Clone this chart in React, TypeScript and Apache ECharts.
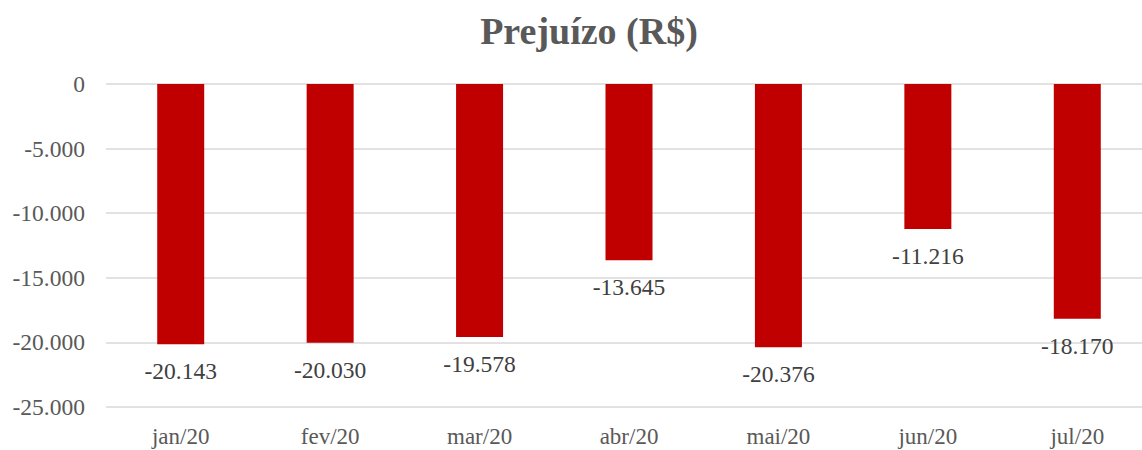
import React, { useEffect, useRef } from "react";
import * as echarts from "echarts";

const title = "Prejuízo (R$)";
const categories = ["jan/20", "fev/20", "mar/20", "abr/20", "mai/20", "jun/20", "jul/20"];
const values = [-20143, -20030, -19578, -13645, -20376, -11216, -18170];
const yMin = -25000;
const yMax = 0;
const yInterval = 5000;

const fmt = (v: number) => {
  const s = Math.abs(v).toString().replace(/\B(?=(\d{3})+(?!\d))/g, ".");
  return (v < 0 ? "-" : "") + s;
};

const FONT = "Liberation Serif";

export default function App() {
  const ref = useRef<HTMLDivElement>(null);
  useEffect(() => {
    if (!ref.current) return;
    const chart = echarts.init(ref.current, undefined, { renderer: "svg" });
    chart.setOption({
      animation: false,
      backgroundColor: "#ffffff",
      title: {
        text: title,
        left: 584,
        top: 26,
        textAlign: "center",
        textVerticalAlign: "middle",
        textStyle: { fontFamily: FONT, fontSize: 38, fontWeight: "bold", color: "#595959" },
      },
      grid: { left: 106, top: 84, width: 1046, height: 323, containLabel: false },
      xAxis: {
        type: "category",
        data: categories,
        position: "bottom",
        axisLine: { show: false },
        axisTick: { show: false },
        axisLabel: { fontFamily: FONT, fontSize: 23, color: "#595959", margin: 18 },
      },
      yAxis: {
        type: "value",
        min: yMin,
        max: yMax,
        interval: yInterval,
        axisLine: { show: false },
        axisTick: { show: false },
        splitLine: { lineStyle: { color: "#d9d9d9", width: 1.5 } },
        axisLabel: {
          fontFamily: FONT,
          fontSize: 23.5,
          color: "#595959",
          margin: 21,
          formatter: (v: number) => fmt(v),
        },
      },
      series: [
        {
          type: "bar",
          data: values,
          barWidth: 47,
          itemStyle: { color: "#C00000" },
          label: {
            show: true,
            position: "bottom",
            distance: 15,
            fontFamily: FONT,
            fontSize: 23.5,
            color: "#404040",
            formatter: (p: any) => fmt(p.value),
          },
        },
      ],
    });
    return () => chart.dispose();
  }, []);
  return (
    <div style={{ position: "absolute", left: 0, top: 0, width: 1142, height: 450, overflow: "hidden" }}>
      <div ref={ref} style={{ position: "absolute", left: 0, top: 0, width: 1170, height: 450 }} />
    </div>
  );
}
